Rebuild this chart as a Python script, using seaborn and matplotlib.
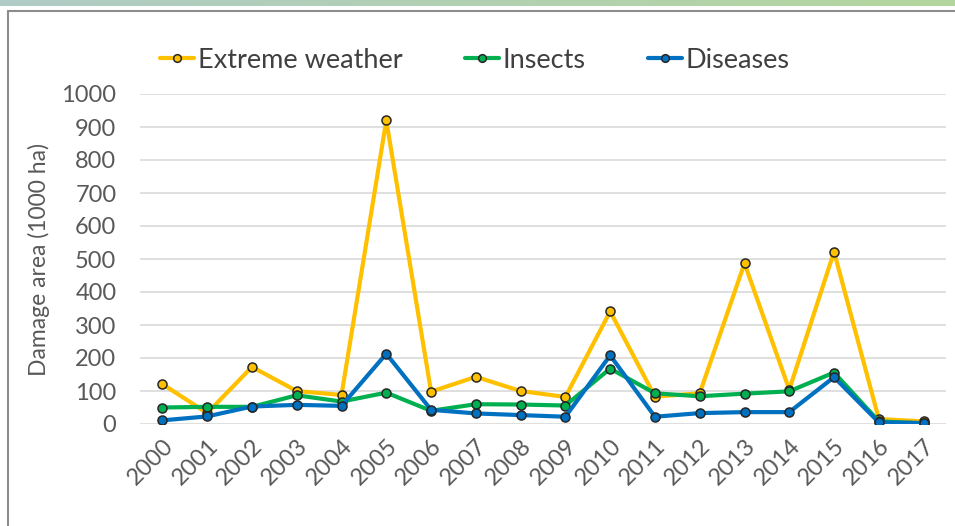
import numpy as np
import pandas as pd
import matplotlib.pyplot as plt
import seaborn as sns
from matplotlib.lines import Line2D
from matplotlib.colors import LinearSegmentedColormap

years = [str(y) for y in range(2000, 2018)]
extreme_weather = [121, 33, 173, 100, 88, 920, 98, 143, 100, 82, 341, 83, 93, 487, 104, 522, 15, 8]
insects = [50, 52, 52, 87, 68, 95, 40, 60, 59, 56, 168, 93, 84, 92, 99, 156, 8, 2]
diseases = [11, 23, 53, 58, 55, 213, 43, 32, 27, 22, 208, 22, 33, 36, 36, 142, 5, 3]
series = ['Extreme weather', 'Insects', 'Diseases']
colors = ['#FFC000', '#00B050', '#0070C0']

df = pd.DataFrame({'Year': years * 3,
                   'Value': extreme_weather + insects + diseases,
                   'Series': np.repeat(series, len(years))})

sns.set_style('white')
plt.rcParams['font.family'] = ['Lato', 'DejaVu Sans']

fig = plt.figure(figsize=(9.55, 5.26), dpi=100)

# gradient strip along the top edge
strip = fig.add_axes([0, 1 - 6 / 526, 1, 6 / 526])
grad = np.linspace(0, 1, 256).reshape(1, -1)
strip.imshow(grad, aspect='auto', cmap=LinearSegmentedColormap.from_list('g', ['#AFCBC6', '#B3D69D']))
strip.axis('off')

# chart frame (top and left edges only, the rest is cut off)
fx, fy = 7.5 / 955, 1 - 10.5 / 526
fig.add_artist(Line2D([fx, 1], [fy, fy], transform=fig.transFigure, color='#8C8C8C', linewidth=1.5))
fig.add_artist(Line2D([fx, fx], [0, fy], transform=fig.transFigure, color='#8C8C8C', linewidth=1.5))

ax = fig.add_axes([140 / 955, (526 - 424) / 526, 806 / 955, 330 / 526])
sns.lineplot(data=df, x='Year', y='Value', hue='Series', palette=colors, sort=False,
             marker='o', markersize=6.5, markeredgecolor='#262626', markeredgewidth=1.1,
             linewidth=3, ax=ax, legend=True)

ax.set_xlim(-0.5, len(years) - 0.5)
ax.set_ylim(0, 1000)
ax.set_yticks(range(0, 1001, 100))
ax.yaxis.grid(True, color='#D9D9D9', linewidth=1.2)
ax.set_axisbelow(True)
for s in ax.spines.values():
    s.set_visible(False)
ax.tick_params(axis='both', length=0, labelsize=17, labelcolor='#595959')
ax.tick_params(axis='y', pad=17)
plt.setp(ax.get_xticklabels(), rotation=45, ha='right', rotation_mode='anchor')
ax.tick_params(axis='x', pad=8)
ax.set_xlabel('')
ax.set_ylabel('Damage area (1000 ha)', fontsize=16.5, color='#595959', labelpad=8)

handles, labels = ax.get_legend_handles_labels()
ax.legend_.remove()
fig.legend(handles, labels, loc='center left', bbox_to_anchor=(160 / 955, 1 - 60 / 526),
           ncol=3, frameon=False, fontsize=19.5, labelcolor='#404040',
           borderpad=0, borderaxespad=0, markerscale=0.85,
           handlelength=1.25, handletextpad=0.15, columnspacing=2.3)

fig.savefig('out.png', dpi=100)
